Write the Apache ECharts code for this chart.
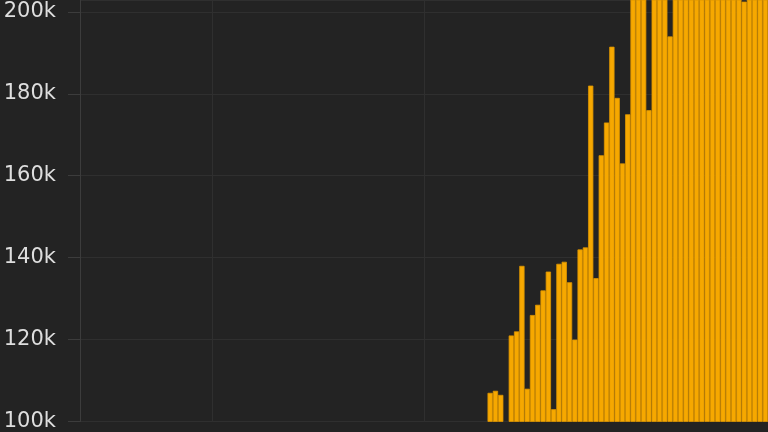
<!DOCTYPE html>
<html><head><meta charset="utf-8">
<script src="https://cdn.jsdelivr.net/npm/echarts@6/dist/echarts.min.js"></script>
<style>html,body{margin:0;padding:0;background:#232323;overflow:hidden;}#c{width:768px;height:432px;}</style>
</head><body><div id="c"></div>
<script>
// 130 daily categories; the first 77 (and index 80) stay below the visible 100k floor
const categoryCount = 130;
const hiddenLeading = 77;
const categories = [];
for (let i = 1; i <= categoryCount; i++) categories.push('Day ' + i);

// values (in thousands) read for the visible bars, index 77 .. 129
const visibleValuesK = [
  107, 107.5, 106.5, null, 121, 122, 138, 108, 126, 128.5,
  132, 136.6, 103, 138.5, 139, 134, 120, 142, 142.5, 182,
  135, 165, 173, 191.5, 179, 163, 175, 208, 212, 205,
  176, 210, 215, 208, 194, 212, 214, 209, 218, 211,
  220, 215, 222, 213, 219, 224, 216, 221, 202.5, 218,
  223, 228, 220
];
const yTicks = [100000, 120000, 140000, 160000, 180000, 200000];

const values = new Array(hiddenLeading).fill(null)
  .concat(visibleValuesK.map(v => v === null ? null : v * 1000));

const chart = echarts.init(document.getElementById('c'), null, {renderer: 'canvas'});
chart.setOption({
  backgroundColor: '#232323',
  animation: false,
  grid: {left: 80, right: 0, top: 0, bottom: 8, containLabel: false},
  xAxis: {
    type: 'category',
    data: categories,
    axisLine: {show: false},
    axisTick: {show: false},
    axisLabel: {show: false},
    splitLine: {
      show: true,
      interval: (idx) => idx === 25 || idx === 65 || idx === 105,
      lineStyle: {color: '#2f2f2f', width: 1}
    }
  },
  yAxis: {
    type: 'value',
    min: 100000,
    max: 202900,
    interval: 20000,
    axisLine: {show: true, lineStyle: {color: '#3c3c3c', width: 1}},
    axisTick: {show: true, length: 12, lineStyle: {color: '#3c3c3c'}},
    axisLabel: {
      color: '#dedede',
      fontSize: 21,
      fontFamily: 'DejaVu Sans',
      margin: 24,
      showMaxLabel: false,
      formatter: v => (yTicks.indexOf(v) >= 0 ? (v / 1000) + 'k' : '')
    },
    splitLine: {show: true, lineStyle: {color: '#2f2f2f', width: 1}}
  },
  series: [{
    type: 'bar',
    data: values,
    barCategoryGap: '0%',
    itemStyle: {color: '#f6a800', borderColor: '#dc9400', borderWidth: 0.8},
    clip: true
  }]
});
</script>
</body></html>
